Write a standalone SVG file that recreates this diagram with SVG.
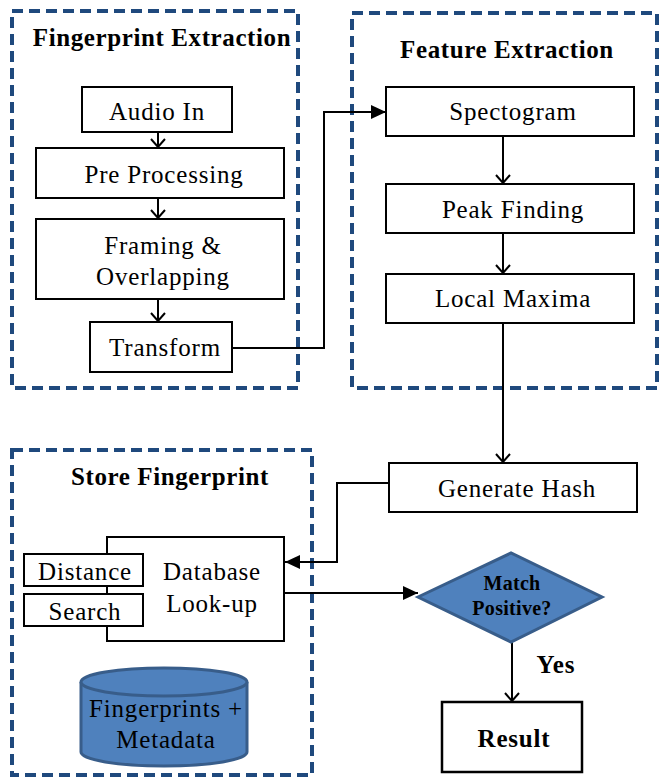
<svg xmlns="http://www.w3.org/2000/svg" width="659" height="780" viewBox="0 0 659 780">
<style>
.grp{fill:none;stroke:#1F497D;stroke-width:4;stroke-dasharray:11 6}
.box{fill:#fff;stroke:#000;stroke-width:2}
.t{font-family:"Liberation Serif","Times New Roman",serif;font-size:25px;fill:#000;text-anchor:middle;letter-spacing:0.8px}
.b{font-weight:bold}
.h{letter-spacing:0.6px}
.blue{fill:#4F81BD;stroke:#385D8A;stroke-width:3}
.c{fill:none;stroke:#000;stroke-width:2}
</style>
<defs>
<marker id="v" markerUnits="userSpaceOnUse" viewBox="-12 -10 14 20" refX="0" refY="0" markerWidth="14" markerHeight="20" orient="auto" overflow="visible">
<path d="M-8,-7 L0,0 L-8,7" fill="none" stroke="#000" stroke-width="2"/>
</marker>
<marker id="f" markerUnits="userSpaceOnUse" viewBox="-16 -8 17 16" refX="0" refY="0" markerWidth="17" markerHeight="16" orient="auto" overflow="visible">
<path d="M-15,-7 L0,0 L-15,7 Z" fill="#000"/>
</marker>
</defs>
<rect width="659" height="780" fill="#fff"/>

<g id="group-fingerprint-extraction">
<rect class="grp" x="12" y="11" width="286" height="377"/>
<text class="t b h" x="162" y="46">Fingerprint Extraction</text>
</g>
<g id="group-feature-extraction">
<rect class="grp" x="352" y="13" width="305" height="375"/>
<text class="t b h" x="507" y="58">Feature Extraction</text>
</g>
<g id="group-store-fingerprint">
<rect class="grp" x="12" y="450" width="300" height="325"/>
<text class="t b h" x="170" y="485">Store Fingerprint</text>
</g>

<g id="connectors">
<path class="c" d="M158,132 V147" marker-end="url(#v)"/>
<path class="c" d="M158,198 V218" marker-end="url(#v)"/>
<path class="c" d="M158,299 V321" marker-end="url(#v)"/>
<path class="c" d="M232,348 H324 V112 H386" marker-end="url(#f)"/>
<path class="c" d="M503,136 V183" marker-end="url(#v)"/>
<path class="c" d="M503,233 V273" marker-end="url(#v)"/>
<path class="c" d="M503,323 V462" marker-end="url(#v)"/>
<path class="c" d="M389,483 H337 V562 H285" marker-end="url(#f)"/>
<path class="c" d="M284,593 H418" marker-end="url(#f)"/>
<path class="c" d="M512,642 V701" marker-end="url(#v)"/>
</g>

<g id="audio-in">
<rect class="box" x="82" y="87" width="150" height="45"/>
<text class="t" x="157" y="120">Audio In</text>
</g>
<g id="pre-processing">
<rect class="box" x="36" y="148" width="248" height="50"/>
<text class="t" x="164" y="183">Pre Processing</text>
</g>
<g id="framing">
<rect class="box" x="36" y="219" width="248" height="80"/>
<text class="t" x="163" y="254">Framing &amp;</text>
<text class="t" x="163" y="285">Overlapping</text>
</g>
<g id="transform">
<rect class="box" x="90" y="322" width="142" height="50"/>
<text class="t" x="165" y="356">Transform</text>
</g>
<g id="spectogram">
<rect class="box" x="386" y="87" width="248" height="49"/>
<text class="t" x="513" y="120">Spectogram</text>
</g>
<g id="peak-finding">
<rect class="box" x="386" y="184" width="248" height="49"/>
<text class="t" x="513" y="218">Peak Finding</text>
</g>
<g id="local-maxima">
<rect class="box" x="386" y="274" width="248" height="49"/>
<text class="t" x="513" y="307">Local Maxima</text>
</g>
<g id="generate-hash">
<rect class="box" x="389" y="463" width="248" height="49"/>
<text class="t" x="517" y="497">Generate Hash</text>
</g>
<g id="database-lookup">
<rect class="box" x="107" y="537" width="177" height="104"/>
<text class="t" x="212" y="580">Database</text>
<text class="t" x="212" y="612">Look-up</text>
</g>
<g id="distance">
<rect class="box" x="24" y="554" width="119" height="32"/>
<text class="t" x="85" y="580">Distance</text>
</g>
<g id="search">
<rect class="box" x="24" y="594" width="119" height="32"/>
<text class="t" x="85" y="620">Search</text>
</g>
<g id="fingerprints-db">
<path class="blue" d="M81,682 V752 A83,14 0 0 0 247,752 V682"/>
<ellipse class="blue" cx="164" cy="682" rx="83" ry="14"/>
<text class="t" x="166" y="717">Fingerprints +</text>
<text class="t" x="166" y="748">Metadata</text>
</g>
<g id="match-positive">
<polygon class="blue" points="418,597 511,553 602,597 511,642"/>
<text class="t b" x="512" y="590" style="font-size:20px;letter-spacing:0.3px">Match</text>
<text class="t b" x="512" y="615" style="font-size:20px;letter-spacing:0.3px">Positive?</text>
</g>
<text class="t b" x="556" y="673" style="letter-spacing:1px">Yes</text>
<g id="result">
<rect class="box" x="442" y="702" width="140" height="70" style="stroke-width:2.5"/>
<text class="t b" x="514" y="747">Result</text>
</g>
</svg>
